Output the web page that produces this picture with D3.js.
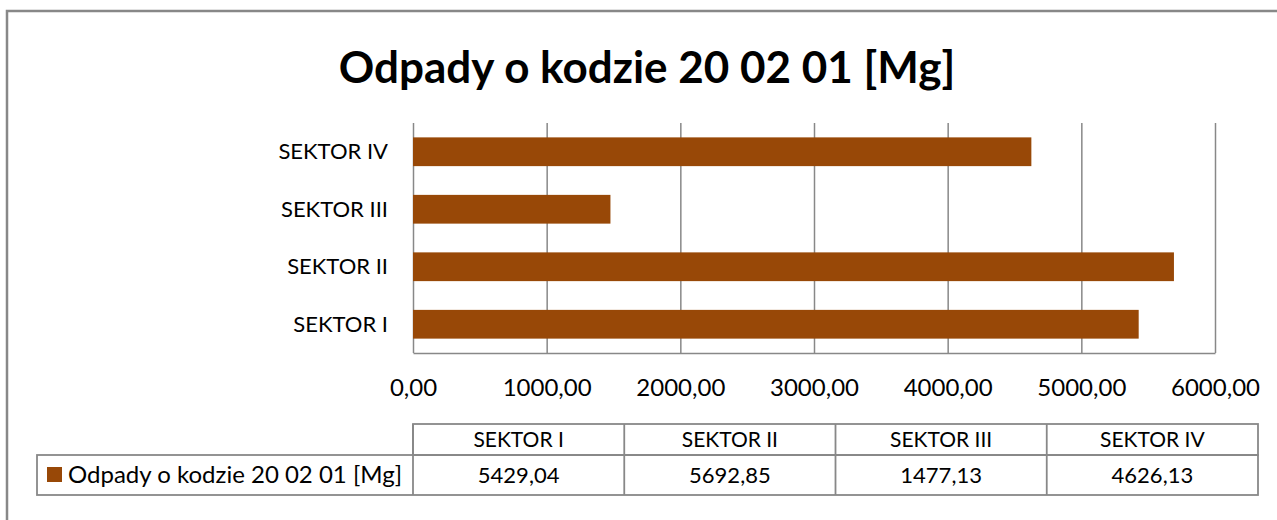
<!DOCTYPE html>
<html>
<head>
<meta charset="utf-8">
<script src="https://cdn.jsdelivr.net/npm/d3@7"></script>
<style>
  body { margin: 0; background: #fff; }
  svg { display: block; font-family: Lato, "Open Sans", sans-serif; }
</style>
</head>
<body>
<script>
// Data
const categories = ["SEKTOR I", "SEKTOR II", "SEKTOR III", "SEKTOR IV"]
const values = [5429.04, 5692.85, 1477.13, 4626.13]
const tickValues = [0, 1000, 2000, 3000, 4000, 5000, 6000]
const seriesName = "Odpady o kodzie 20 02 01 [Mg]"
const title = "Odpady o kodzie 20 02 01 [Mg]"

const barColor = "#984807"
const lineColor = "#888888"

// polish number format, comma as decimal separator
const fmt = v => d3.format(".2f")(v).replace(".", ",")

function draw() {
    const width = 1277
    const height = 520

    const svg = d3.select("body").append("svg")
        .attr("width", width)
        .attr("height", height)

    // chart frame
    svg.append("rect")
        .attr("x", 7)
        .attr("y", 11)
        .attr("width", 1290)
        .attr("height", 530)
        .attr("fill", "#fff")
        .attr("stroke", lineColor)
        .attr("stroke-width", 2.5)

    svg.append("text")
        .attr("x", 647)
        .attr("y", 83)
        .attr("text-anchor", "middle")
        .style("font-size", "44px")
        .style("font-weight", "bold")
        .text(title)

    // plot area
    const left = 413, right = 1215, top = 123, bottom = 353

    const xScale = d3.scaleLinear()
        .domain([0, 6000])
        .range([left, right])

    const yScale = d3.scaleBand()
        .domain(categories.slice().reverse())
        .range([top, bottom])
        .paddingInner(0.5)
        .paddingOuter(0.25)

    // gridlines + tick labels
    const xAxis = svg.append("g")
        .attr("transform", `translate(0, ${bottom})`)
        .call(d3.axisBottom(xScale)
            .tickValues(tickValues)
            .tickFormat(fmt)
            .tickSize(-(bottom - top))
            .tickSizeOuter(0)
            .tickPadding(26))
    xAxis.selectAll("line").attr("stroke", lineColor).attr("stroke-width", 1.5)
    xAxis.select(".domain").attr("stroke", lineColor).attr("stroke-width", 1.5)
    xAxis.selectAll("text")
        .attr("fill", "#000")
        .style("font-size", "24px")
        .style("font-family", "Lato, sans-serif")

    // bars
    svg.selectAll(".bar")
        .data(categories)
        .enter()
        .append("rect")
        .attr("class", "bar")
        .attr("x", xScale(0))
        .attr("y", d => yScale(d))
        .attr("width", (d, i) => xScale(values[i]) - xScale(0))
        .attr("height", yScale.bandwidth())
        .attr("fill", barColor)

    // category labels
    svg.selectAll(".cat")
        .data(categories)
        .enter()
        .append("text")
        .attr("class", "cat")
        .attr("x", 388)
        .attr("y", d => yScale(d) + yScale.bandwidth() / 2)
        .attr("dy", "0.35em")
        .attr("text-anchor", "end")
        .style("font-size", "22px")
        .text(d => d)

    // data table under the chart
    const colX = d3.scaleBand()
        .domain(categories)
        .range([413, 1258])
    const headTop = 424, rowMid = 455, rowBottom = 495
    const legendLeft = 37

    const table = svg.append("g")
        .attr("fill", "none")
        .attr("stroke", lineColor)
        .attr("stroke-width", 1.8)

    table.append("rect")
        .attr("x", colX.range()[0])
        .attr("y", headTop)
        .attr("width", colX.range()[1] - colX.range()[0])
        .attr("height", rowMid - headTop)
    table.append("rect")
        .attr("x", legendLeft)
        .attr("y", rowMid)
        .attr("width", colX.range()[1] - legendLeft)
        .attr("height", rowBottom - rowMid)
    table.selectAll(".sep")
        .data(categories)
        .enter()
        .append("line")
        .attr("x1", d => colX(d))
        .attr("x2", d => colX(d))
        .attr("y1", headTop)
        .attr("y2", rowBottom)

    svg.selectAll(".head")
        .data(categories)
        .enter()
        .append("text")
        .attr("x", d => colX(d) + colX.bandwidth() / 2)
        .attr("y", (headTop + rowMid) / 2)
        .attr("dy", "0.35em")
        .attr("text-anchor", "middle")
        .style("font-size", "21px")
        .text(d => d)

    svg.selectAll(".val")
        .data(categories)
        .enter()
        .append("text")
        .attr("x", d => colX(d) + colX.bandwidth() / 2)
        .attr("y", (rowMid + rowBottom) / 2)
        .attr("dy", "0.35em")
        .attr("text-anchor", "middle")
        .style("font-size", "22px")
        .text((d, i) => fmt(values[i]))

    // legend key inside the table
    svg.append("rect")
        .attr("x", 47)
        .attr("y", 467)
        .attr("width", 15)
        .attr("height", 15)
        .attr("fill", barColor)
    svg.append("text")
        .attr("x", 68)
        .attr("y", (rowMid + rowBottom) / 2)
        .attr("dy", "0.35em")
        .style("font-size", "24px")
        .text(seriesName)
}

draw()
</script>
</body>
</html>
